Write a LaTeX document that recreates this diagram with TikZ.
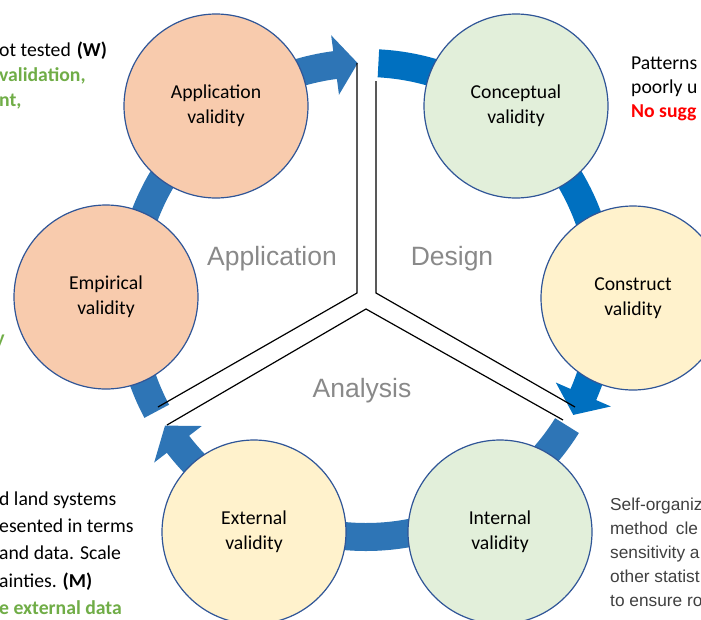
\documentclass[tikz,border=0pt]{standalone}
\usepackage{fontspec}
\setmainfont{Carlito}
\newfontfamily\arialfont{Liberation Sans}

\definecolor{ringblue}{RGB}{46,117,182}
\definecolor{designblue}{RGB}{0,112,192}
\definecolor{peach}{RGB}{248,203,173}
\definecolor{sage}{RGB}{226,239,218}
\definecolor{cream}{RGB}{255,242,204}
\definecolor{ringline}{RGB}{47,85,151}
\definecolor{phasegrey}{RGB}{137,137,137}
\definecolor{sidegrey}{RGB}{64,64,64}
\definecolor{leafgreen}{RGB}{112,173,71}
\definecolor{alertred}{RGB}{255,0,0}

\begin{document}
\begin{tikzpicture}[x = 1pt, y = -1pt,
	valid/.style = {circle, draw = ringline, line width = 1.2pt, minimum size = 184pt, inner sep = 0pt, align = center, font = \fontsize{19.7}{25}\selectfont},
	phase/.style = {text = phasegrey, font = \arialfont\fontsize{26.5}{30}\selectfont},
	note/.style = {anchor = base west, inner sep = 0pt, font = \fontsize{19.7}{25}\selectfont},
	side/.style = {anchor = base west, inner sep = 0pt, text = sidegrey, font = \arialfont\fontsize{17.3}{20}\selectfont},
	divider/.style = {line width = 1.2pt, black}]
	\useasboundingbox (0,0) rectangle (701,619);
	\clip (0,0) rectangle (701,619);
	
	% ring of three block arrows
	\begin{scope}[shift = {(366,300)}]
	\foreach \t/\c in {152/ringblue, 273/designblue, 392/ringblue}
		\fill[\c] (\t:251) arc[start angle = \t, end angle = \t+110.5, radius = 251] -- (\t+110.5:267) -- (\t+116:237) -- (\t+110.5:207) -- (\t+110.5:223) arc[start angle = \t+110.5, end angle = \t, radius = 223] -- cycle;
	\end{scope}
	
	\draw[divider] (357,63) -- (357,293) -- (158,407);
	\draw[divider] (376,81) -- (376,293) -- (575,407);
	\draw[divider] (167,425) -- (366,309) -- (563,420);
	
	\node[valid, fill = peach] (APP) at (216,106) {Application\\validity};
	\node[valid, fill = sage] (CON) at (516,106) {Conceptual\\validity};
	\node[valid, fill = cream] (CST) at (633,298) {Construct\\validity};
	\node[valid, fill = sage] (INT) at (500,532) {Internal\\validity};
	\node[valid, fill = cream] (EXT) at (254,532) {External\\validity};
	\node[valid, fill = peach] (EMP) at (106,297) {Empirical\\validity};
	
	\node[phase] (APPL) at (272,259) {Application};
	\node[phase] (DES) at (452,259) {Design};
	\node[phase] (ANA) at (362,391) {Analysis};
	
	\foreach \txt [count = \i] in {{ot tested\hspace{6pt}\textbf{(W)}}, {\textbf{\color{leafgreen}validation,}}, {\textbf{\color{leafgreen}nt,}}}
		\node[note] (W\i) at (-1, 31+25*\i) {\txt};
	\node[note, anchor = base east, text = leafgreen, font = \fontsize{19.7}{25}\selectfont\bfseries] (Y) at (5,344) {y};
	\foreach \txt [count = \i] in {{d land systems}, {esented in terms}, {and data. Scale}, {ainties. \textbf{(M)}}, {\textbf{\color{leafgreen}e external data}}}
		\node[note] (M\i) at (-1, 478+27.3*\i) {\txt};
	\foreach \txt [count = \i] in {{Patterns}, {poorly u}, {\textbf{\color{alertred}No sugg}}}
		\node[note] (P\i) at (631, 45+24*\i) {\txt};
	\foreach \txt [count = \i] in {{Self-organiz}, {method\hspace{8pt}cle}, {sensitivity a}, {other statist}, {to ensure ro}}
		\node[side] (S\i) at (610, 486+24*\i) {\txt};
\end{tikzpicture}
\end{document}
